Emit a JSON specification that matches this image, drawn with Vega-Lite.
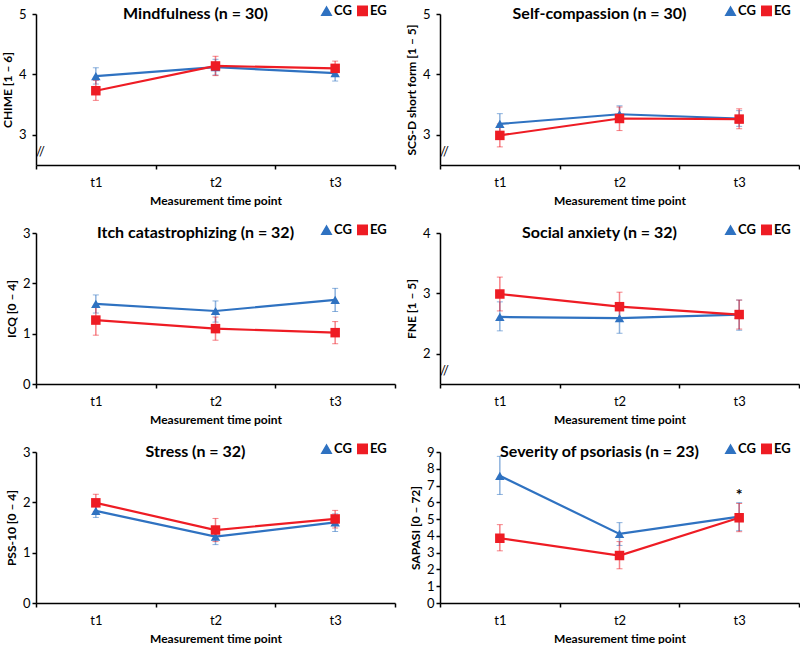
{
  "$schema": "https://vega.github.io/schema/vega-lite/v6.json",
  "autosize": {"type": "pad"},
  "padding": {"left": 1, "top": 4, "right": 0, "bottom": 0},
  "background": "white",
  "datasets": {
    "d": [
      {"panel": "M", "group": "CG", "time": "t1", "mean": 3.97, "lo": 3.84, "hi": 4.11},
      {"panel": "M", "group": "CG", "time": "t2", "mean": 4.12, "lo": 3.99, "hi": 4.25},
      {"panel": "M", "group": "CG", "time": "t3", "mean": 4.02, "lo": 3.89, "hi": 4.12},
      {"panel": "M", "group": "EG", "time": "t1", "mean": 3.73, "lo": 3.57, "hi": 3.90},
      {"panel": "M", "group": "EG", "time": "t2", "mean": 4.14, "lo": 3.98, "hi": 4.30},
      {"panel": "M", "group": "EG", "time": "t3", "mean": 4.10, "lo": 3.97, "hi": 4.22},
      {"panel": "S", "group": "CG", "time": "t1", "mean": 3.18, "lo": 3.01, "hi": 3.35},
      {"panel": "S", "group": "CG", "time": "t2", "mean": 3.34, "lo": 3.21, "hi": 3.48},
      {"panel": "S", "group": "CG", "time": "t3", "mean": 3.27, "lo": 3.14, "hi": 3.40},
      {"panel": "S", "group": "EG", "time": "t1", "mean": 2.99, "lo": 2.80, "hi": 3.18},
      {"panel": "S", "group": "EG", "time": "t2", "mean": 3.27, "lo": 3.07, "hi": 3.46},
      {"panel": "S", "group": "EG", "time": "t3", "mean": 3.26, "lo": 3.10, "hi": 3.43},
      {"panel": "I", "group": "CG", "time": "t1", "mean": 1.59, "lo": 1.41, "hi": 1.77},
      {"panel": "I", "group": "CG", "time": "t2", "mean": 1.45, "lo": 1.23, "hi": 1.65},
      {"panel": "I", "group": "CG", "time": "t3", "mean": 1.67, "lo": 1.44, "hi": 1.90},
      {"panel": "I", "group": "EG", "time": "t1", "mean": 1.27, "lo": 0.97, "hi": 1.56},
      {"panel": "I", "group": "EG", "time": "t2", "mean": 1.10, "lo": 0.87, "hi": 1.33},
      {"panel": "I", "group": "EG", "time": "t3", "mean": 1.02, "lo": 0.80, "hi": 1.24},
      {"panel": "F", "group": "CG", "time": "t1", "mean": 2.61, "lo": 2.38, "hi": 2.86},
      {"panel": "F", "group": "CG", "time": "t2", "mean": 2.59, "lo": 2.34, "hi": 2.83},
      {"panel": "F", "group": "CG", "time": "t3", "mean": 2.65, "lo": 2.39, "hi": 2.89},
      {"panel": "F", "group": "EG", "time": "t1", "mean": 2.99, "lo": 2.71, "hi": 3.27},
      {"panel": "F", "group": "EG", "time": "t2", "mean": 2.78, "lo": 2.54, "hi": 3.02},
      {"panel": "F", "group": "EG", "time": "t3", "mean": 2.65, "lo": 2.41, "hi": 2.89},
      {"panel": "P", "group": "CG", "time": "t1", "mean": 1.83, "lo": 1.70, "hi": 1.96},
      {"panel": "P", "group": "CG", "time": "t2", "mean": 1.32, "lo": 1.16, "hi": 1.49},
      {"panel": "P", "group": "CG", "time": "t3", "mean": 1.60, "lo": 1.42, "hi": 1.77},
      {"panel": "P", "group": "EG", "time": "t1", "mean": 1.99, "lo": 1.82, "hi": 2.16},
      {"panel": "P", "group": "EG", "time": "t2", "mean": 1.45, "lo": 1.22, "hi": 1.68},
      {"panel": "P", "group": "EG", "time": "t3", "mean": 1.67, "lo": 1.49, "hi": 1.84},
      {"panel": "SP", "group": "CG", "time": "t1", "mean": 7.58, "lo": 6.47, "hi": 8.74},
      {"panel": "SP", "group": "CG", "time": "t2", "mean": 4.12, "lo": 3.43, "hi": 4.79},
      {"panel": "SP", "group": "CG", "time": "t3", "mean": 5.15, "lo": 4.31, "hi": 5.98},
      {"panel": "SP", "group": "EG", "time": "t1", "mean": 3.86, "lo": 3.11, "hi": 4.67},
      {"panel": "SP", "group": "EG", "time": "t2", "mean": 2.83, "lo": 2.04, "hi": 3.66},
      {"panel": "SP", "group": "EG", "time": "t3", "mean": 5.08, "lo": 4.25, "hi": 5.93}
    ],
    "star": [{"time": "t3", "mean": 6.45, "label": "*"}]
  },
  "columns": 2,
  "spacing": {"row": 17, "column": 9},
  "resolve": {"scale": {"x": "independent", "y": "independent", "color": "independent", "shape": "independent"}, "legend": {"color": "independent", "shape": "independent"}},
  "concat": [
        {
          "width": 359, "height": 151,
          "title": {"text": "Mindfulness (n = 30)", "dx": -20},
          "data": {"name": "d"},
          "transform": [{"filter": "datum.panel == 'M'"}],
          "encoding": {"x": {"field": "time", "type": "ordinal", "scale": {"type": "band", "paddingInner": 0, "paddingOuter": 0}, "bandPosition": 0.5, "axis": {"title": "Measurement time point"}}},
          "layer": [
            {"mark": {"type": "errorbar", "ticks": {"size": 6, "opacity": 0.55}, "rule": {"opacity": 0.55, "strokeWidth": 1.5}},
             "encoding": {"y": {"field": "lo", "type": "quantitative", "scale": {"domain": [2.5, 5], "nice": false, "zero": false}, "axis": {"title": "CHIME [1 – 6]", "values": [2.72, 3, 4, 5], "labelExpr": "datum.value < 2.9 ? '//' : format(datum.value, 'd')", "labelAlign": {"condition": {"test": "datum.value < 2.9", "value": "center"}, "value": "right"}, "labelPadding": {"condition": {"test": "datum.value < 2.9", "value": -4}, "value": 6}, "tickSize": {"condition": {"test": "datum.value < 2.9", "value": 0}, "value": 4}}}, "y2": {"field": "hi"},
                          "color": {"field": "group", "type": "nominal", "scale": {"domain": ["CG", "EG"], "range": ["#2F72C1", "#EE1C24"]}, "legend": {"title": null}}}},
            {"mark": {"type": "line", "strokeWidth": 2.2},
             "encoding": {"y": {"field": "mean", "type": "quantitative"}, "color": {"field": "group", "type": "nominal", "legend": {"title": null}}}},
            {"mark": {"type": "point", "filled": true, "opacity": 1, "size": 90},
             "encoding": {"y": {"field": "mean", "type": "quantitative"}, "color": {"field": "group", "type": "nominal", "legend": {"title": null}}, "shape": {"field": "group", "type": "nominal", "scale": {"domain": ["CG", "EG"], "range": ["triangle-up", "square"]}, "legend": {"title": null}}}}
          ]
        },
        {
          "width": 359, "height": 151,
          "title": {"text": "Self-compassion (n = 30)", "dx": -20},
          "data": {"name": "d"},
          "transform": [{"filter": "datum.panel == 'S'"}],
          "encoding": {"x": {"field": "time", "type": "ordinal", "scale": {"type": "band", "paddingInner": 0, "paddingOuter": 0}, "bandPosition": 0.5, "axis": {"title": "Measurement time point"}}},
          "layer": [
            {"mark": {"type": "errorbar", "ticks": {"size": 6, "opacity": 0.55}, "rule": {"opacity": 0.55, "strokeWidth": 1.5}},
             "encoding": {"y": {"field": "lo", "type": "quantitative", "scale": {"domain": [2.5, 5], "nice": false, "zero": false}, "axis": {"title": "SCS-D short form [1 – 5]", "values": [2.72, 3, 4, 5], "labelExpr": "datum.value < 2.9 ? '//' : format(datum.value, 'd')", "labelAlign": {"condition": {"test": "datum.value < 2.9", "value": "center"}, "value": "right"}, "labelPadding": {"condition": {"test": "datum.value < 2.9", "value": -4}, "value": 6}, "tickSize": {"condition": {"test": "datum.value < 2.9", "value": 0}, "value": 4}}}, "y2": {"field": "hi"},
                          "color": {"field": "group", "type": "nominal", "scale": {"domain": ["CG", "EG"], "range": ["#2F72C1", "#EE1C24"]}, "legend": {"title": null}}}},
            {"mark": {"type": "line", "strokeWidth": 2.2},
             "encoding": {"y": {"field": "mean", "type": "quantitative"}, "color": {"field": "group", "type": "nominal", "legend": {"title": null}}}},
            {"mark": {"type": "point", "filled": true, "opacity": 1, "size": 90},
             "encoding": {"y": {"field": "mean", "type": "quantitative"}, "color": {"field": "group", "type": "nominal", "legend": {"title": null}}, "shape": {"field": "group", "type": "nominal", "scale": {"domain": ["CG", "EG"], "range": ["triangle-up", "square"]}, "legend": {"title": null}}}}
          ]
        },
        {
          "width": 359, "height": 151,
          "title": {"text": "Itch catastrophizing (n = 32)", "dx": -20},
          "data": {"name": "d"},
          "transform": [{"filter": "datum.panel == 'I'"}],
          "encoding": {"x": {"field": "time", "type": "ordinal", "scale": {"type": "band", "paddingInner": 0, "paddingOuter": 0}, "bandPosition": 0.5, "axis": {"title": "Measurement time point"}}},
          "layer": [
            {"mark": {"type": "errorbar", "ticks": {"size": 6, "opacity": 0.55}, "rule": {"opacity": 0.55, "strokeWidth": 1.5}},
             "encoding": {"y": {"field": "lo", "type": "quantitative", "scale": {"domain": [0, 3], "nice": false}, "axis": {"title": "ICQ [0 – 4]", "values": [0, 1, 2, 3], "format": "d"}}, "y2": {"field": "hi"},
                          "color": {"field": "group", "type": "nominal", "scale": {"domain": ["CG", "EG"], "range": ["#2F72C1", "#EE1C24"]}, "legend": {"title": null}}}},
            {"mark": {"type": "line", "strokeWidth": 2.2},
             "encoding": {"y": {"field": "mean", "type": "quantitative"}, "color": {"field": "group", "type": "nominal", "legend": {"title": null}}}},
            {"mark": {"type": "point", "filled": true, "opacity": 1, "size": 90},
             "encoding": {"y": {"field": "mean", "type": "quantitative"}, "color": {"field": "group", "type": "nominal", "legend": {"title": null}}, "shape": {"field": "group", "type": "nominal", "scale": {"domain": ["CG", "EG"], "range": ["triangle-up", "square"]}, "legend": {"title": null}}}}
          ]
        },
        {
          "width": 359, "height": 151,
          "title": {"text": "Social anxiety (n = 32)", "dx": -20},
          "data": {"name": "d"},
          "transform": [{"filter": "datum.panel == 'F'"}],
          "encoding": {"x": {"field": "time", "type": "ordinal", "scale": {"type": "band", "paddingInner": 0, "paddingOuter": 0}, "bandPosition": 0.5, "axis": {"title": "Measurement time point"}}},
          "layer": [
            {"mark": {"type": "errorbar", "ticks": {"size": 6, "opacity": 0.55}, "rule": {"opacity": 0.55, "strokeWidth": 1.5}},
             "encoding": {"y": {"field": "lo", "type": "quantitative", "scale": {"domain": [1.5, 4], "nice": false, "zero": false}, "axis": {"title": "FNE [1 – 5]", "values": [1.72, 2, 3, 4], "labelExpr": "datum.value < 1.9 ? '//' : format(datum.value, 'd')", "labelAlign": {"condition": {"test": "datum.value < 1.9", "value": "center"}, "value": "right"}, "labelPadding": {"condition": {"test": "datum.value < 1.9", "value": -4}, "value": 6}, "tickSize": {"condition": {"test": "datum.value < 1.9", "value": 0}, "value": 4}}}, "y2": {"field": "hi"},
                          "color": {"field": "group", "type": "nominal", "scale": {"domain": ["CG", "EG"], "range": ["#2F72C1", "#EE1C24"]}, "legend": {"title": null}}}},
            {"mark": {"type": "line", "strokeWidth": 2.2},
             "encoding": {"y": {"field": "mean", "type": "quantitative"}, "color": {"field": "group", "type": "nominal", "legend": {"title": null}}}},
            {"mark": {"type": "point", "filled": true, "opacity": 1, "size": 90},
             "encoding": {"y": {"field": "mean", "type": "quantitative"}, "color": {"field": "group", "type": "nominal", "legend": {"title": null}}, "shape": {"field": "group", "type": "nominal", "scale": {"domain": ["CG", "EG"], "range": ["triangle-up", "square"]}, "legend": {"title": null}}}}
          ]
        },
        {
          "width": 359, "height": 151,
          "title": {"text": "Stress (n = 32)", "dx": -20},
          "data": {"name": "d"},
          "transform": [{"filter": "datum.panel == 'P'"}],
          "encoding": {"x": {"field": "time", "type": "ordinal", "scale": {"type": "band", "paddingInner": 0, "paddingOuter": 0}, "bandPosition": 0.5, "axis": {"title": "Measurement time point"}}},
          "layer": [
            {"mark": {"type": "errorbar", "ticks": {"size": 6, "opacity": 0.55}, "rule": {"opacity": 0.55, "strokeWidth": 1.5}},
             "encoding": {"y": {"field": "lo", "type": "quantitative", "scale": {"domain": [0, 3], "nice": false}, "axis": {"title": "PSS-10 [0 – 4]", "values": [0, 1, 2, 3], "format": "d"}}, "y2": {"field": "hi"},
                          "color": {"field": "group", "type": "nominal", "scale": {"domain": ["CG", "EG"], "range": ["#2F72C1", "#EE1C24"]}, "legend": {"title": null}}}},
            {"mark": {"type": "line", "strokeWidth": 2.2},
             "encoding": {"y": {"field": "mean", "type": "quantitative"}, "color": {"field": "group", "type": "nominal", "legend": {"title": null}}}},
            {"mark": {"type": "point", "filled": true, "opacity": 1, "size": 90},
             "encoding": {"y": {"field": "mean", "type": "quantitative"}, "color": {"field": "group", "type": "nominal", "legend": {"title": null}}, "shape": {"field": "group", "type": "nominal", "scale": {"domain": ["CG", "EG"], "range": ["triangle-up", "square"]}, "legend": {"title": null}}}}
          ]
        },
        {
          "width": 359, "height": 151,
          "title": {"text": "Severity of psoriasis (n = 23)", "dx": -20},
          "data": {"name": "d"},
          "transform": [{"filter": "datum.panel == 'SP'"}],
          "encoding": {"x": {"field": "time", "type": "ordinal", "scale": {"type": "band", "paddingInner": 0, "paddingOuter": 0}, "bandPosition": 0.5, "axis": {"title": "Measurement time point"}}},
          "layer": [
            {"mark": {"type": "errorbar", "ticks": {"size": 6, "opacity": 0.55}, "rule": {"opacity": 0.55, "strokeWidth": 1.5}},
             "encoding": {"y": {"field": "lo", "type": "quantitative", "scale": {"domain": [0, 9], "nice": false}, "axis": {"title": "SAPASI [0 – 72]", "values": [0, 1, 2, 3, 4, 5, 6, 7, 8, 9], "format": "d", "labelOverlap": false}}, "y2": {"field": "hi"},
                          "color": {"field": "group", "type": "nominal", "scale": {"domain": ["CG", "EG"], "range": ["#2F72C1", "#EE1C24"]}, "legend": {"title": null}}}},
            {"mark": {"type": "line", "strokeWidth": 2.2},
             "encoding": {"y": {"field": "mean", "type": "quantitative", "axis": {"title": "SAPASI [0 – 72]", "values": [0, 1, 2, 3, 4, 5, 6, 7, 8, 9], "format": "d", "labelOverlap": false}}, "color": {"field": "group", "type": "nominal", "legend": {"title": null}}}},
            {"mark": {"type": "point", "filled": true, "opacity": 1, "size": 90},
             "encoding": {"y": {"field": "mean", "type": "quantitative", "axis": {"title": "SAPASI [0 – 72]", "values": [0, 1, 2, 3, 4, 5, 6, 7, 8, 9], "format": "d", "labelOverlap": false}}, "color": {"field": "group", "type": "nominal", "legend": {"title": null}}, "shape": {"field": "group", "type": "nominal", "scale": {"domain": ["CG", "EG"], "range": ["triangle-up", "square"]}, "legend": {"title": null}}}},
            {"data": {"name": "star"},
             "mark": {"type": "text", "fontSize": 16, "fontWeight": "bold", "color": "black", "baseline": "middle"},
             "encoding": {"y": {"field": "mean", "type": "quantitative", "axis": {"title": "SAPASI [0 – 72]", "values": [0, 1, 2, 3, 4, 5, 6, 7, 8, 9], "format": "d", "labelOverlap": false}}, "text": {"field": "label"}}}
          ]
        }
  ],
  "config": {
    "font": "Lato",
    "view": {"stroke": null},
    "axis": {"grid": false, "domainColor": "black", "domainWidth": 1.5, "tickColor": "black", "tickWidth": 1.5, "tickSize": 4, "labelColor": "black", "labelFontSize": 13, "titleColor": "black", "titleFontSize": 12, "titleFontWeight": "bold", "labelOverlap": false},
    "axisX": {"labelAngle": 0, "tickBand": "extent", "labelPadding": 7, "titlePadding": 6},
    "axisY": {"titlePadding": 4},
    "title": {"fontSize": 16, "fontWeight": "bold", "color": "black", "frame": "group", "offset": -18},
    "legend": {"orient": "none", "legendX": 284, "legendY": -10, "direction": "horizontal", "labelFontSize": 13, "labelFontWeight": "bold", "labelColor": "black", "symbolSize": 90, "columnPadding": 2, "labelOffset": 1, "symbolOpacity": 1}
  }
}
